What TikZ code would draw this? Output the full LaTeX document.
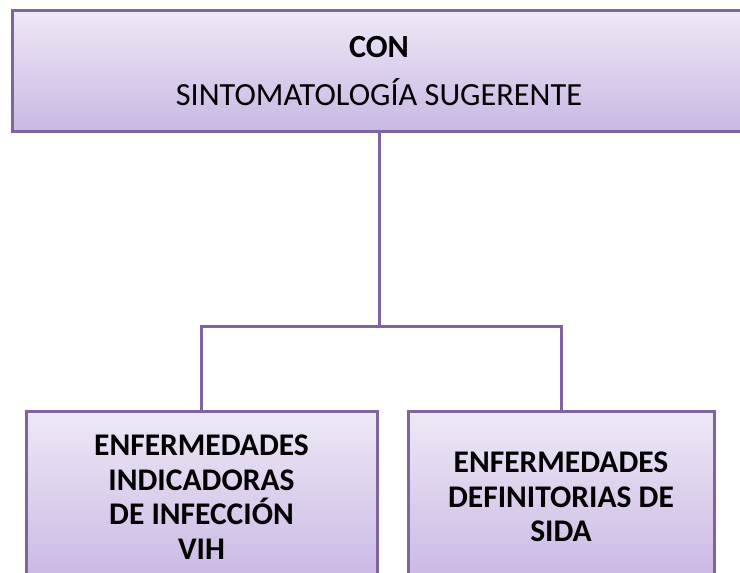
\documentclass[tikz,border=0pt]{standalone}
\usepackage{fontspec}
\setmainfont{Carlito}
\definecolor{edge}{HTML}{8064A2}
\definecolor{filltop}{HTML}{EEE8F6}
\definecolor{fillbot}{HTML}{C9B8E3}
\begin{document}
\begin{tikzpicture}[x=1pt,y=-1pt,
  box/.style={draw=edge, line width=3pt, top color=filltop, bottom color=fillbot,
    inner sep=0pt, align=center, text=black},
  link/.style={draw=edge, line width=3pt}]
\useasboundingbox (0,0) rectangle (740,573);
\clip (0,0) rectangle (740,573);
\node[box, minimum width=734pt, minimum height=121pt,
  font=\fontsize{32.3}{48}\selectfont] (top) at (379,71)
  {\textbf{CON}\\SINTOMATOLOGÍA SUGERENTE};
\node[box, minimum width=351pt, minimum height=172pt,
  font=\fontsize{31.5}{34.5}\selectfont\bfseries] (left) at (201.5,497)
  {ENFERMEDADES\\INDICADORAS\\DE INFECCIÓN\\VIH};
\node[box, minimum width=306pt, minimum height=172pt,
  font=\fontsize{31.5}{34.5}\selectfont\bfseries] (right) at (561,497)
  {ENFERMEDADES\\DEFINITORIAS DE\\SIDA};
\coordinate (mid) at (379,326);
\draw[link] (top.south) -- (mid);
\draw[link] (left.north) |- (mid) -| (right.north);
\end{tikzpicture}
\end{document}
